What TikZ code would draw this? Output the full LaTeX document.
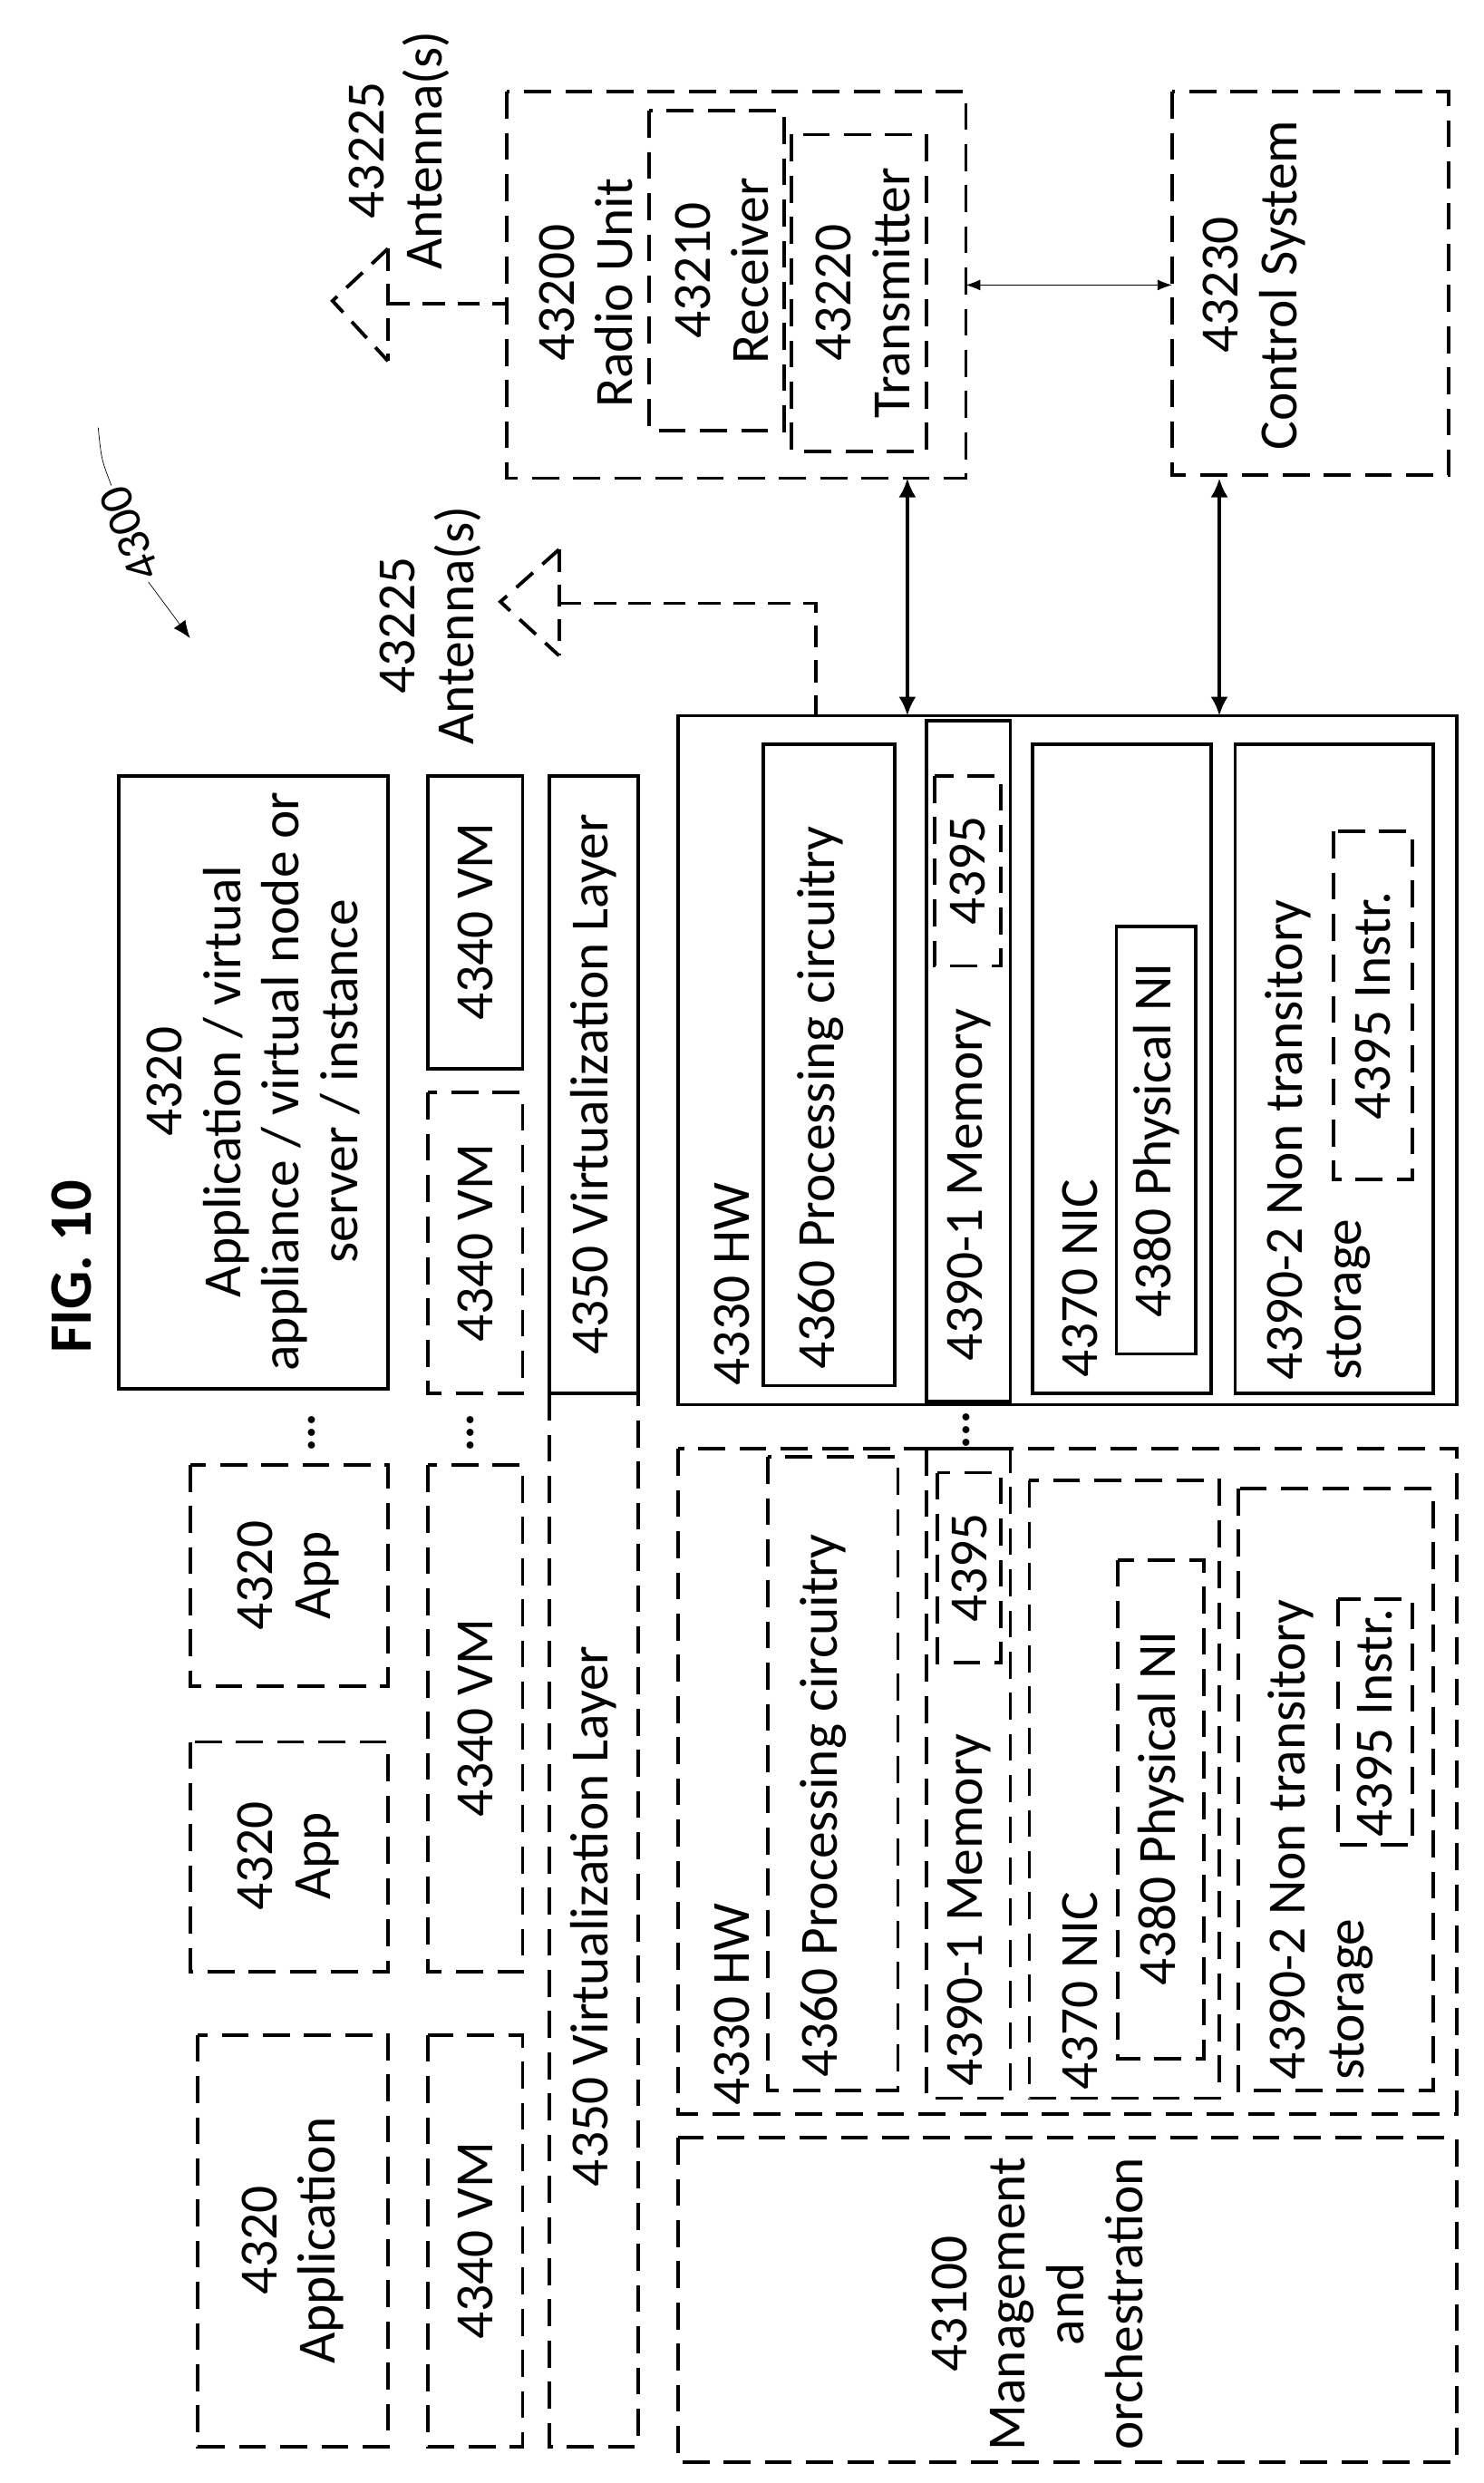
\documentclass[tikz,border=0pt]{standalone}
\usepackage{fontspec}
\setmainfont{Carlito}
\usetikzlibrary{arrows.meta}
\begin{document}
\begin{tikzpicture}[x=1pt,y=-1pt,
  sb/.style={draw,line width=2.2pt},
  db/.style={draw,line width=2.2pt,dash pattern=on 17pt off 9pt},
  tx/.style={rotate=90,font=\fontsize{34}{37}\selectfont,align=center,inner sep=0pt},
  dar/.style={line width=2.4pt,{Latex[length=12pt,width=11pt]}-{Latex[length=12pt,width=11pt]}}]
\useasboundingbox (0,0) rectangle (937,1568);
\node[tx,font=\fontsize{38}{42}\selectfont\bfseries] (fig) at (45,800) {FIG. 10};
% 4300
\node[rotate=111,font=\fontsize{30}{32}\selectfont,inner sep=2pt] (lbl) at (82,337) {4300};
\coordinate (st) at (62,270);
\draw[thin] (st) .. controls (64,290) .. (lbl.east);
\coordinate (ar) at (120,403);
\draw[thin,-{Latex[length=11pt,width=9pt]}] (lbl.west) -- (ar);
% left-top
\draw[sb] (75,490) rectangle (245,877);
\node[tx] (app1) at (160,683) {4320\\Application / virtual\\appliance / virtual node or\\server / instance};
\draw[db] (270,690) rectangle (330,880); \node[tx] at (300,785) {4340 VM};
\draw[sb] (270,490) rectangle (330,675); \node[tx] at (300,582) {4340 VM};
\draw[sb] (347,490) rectangle (403,880); \node[tx] at (375,685) {4350 Virtualization Layer};
\draw[db] (347,880) -- (347,1545) -- (403,1545) -- (403,880);
\node[tx] at (375,1210) {4350 Virtualization Layer};
\node[tx,font=\fontsize{30}{30}\selectfont\bfseries] at (197,905) {...};
\node[tx,font=\fontsize{30}{30}\selectfont\bfseries] at (297,905) {...};
\node[tx,font=\fontsize{30}{30}\selectfont\bfseries] at (610,903) {...};
\draw[db] (120,925) rectangle (245,1065); \node[tx] at (182,995) {4320\\App};
\draw[db] (120,1100) rectangle (245,1245); \node[tx] at (182,1172) {4320\\App};
\draw[db] (125,1285) rectangle (245,1545); \node[tx] at (185,1415) {4320\\Application};
\draw[db] (270,925) rectangle (330,1245); \node[tx] at (300,1085) {4340 VM};
\draw[db] (270,1285) rectangle (330,1545); \node[tx] at (300,1415) {4340 VM};
% right HW solid
\draw[sb] (428,452) rectangle (920,887);
\node[tx,anchor=west] at (462,875) {4330 HW};
\draw[sb] (482,470) rectangle (565,875); \node[tx,anchor=west] at (518,865) {4360 Processing circuitry};
\draw[sb] (585,455) rectangle (638,885); \node[tx,anchor=west] at (612,860) {4390-1 Memory};
\draw[db] (590,490) rectangle (632,610); \node[tx] at (611,550) {4395};
\draw[sb] (652,470) rectangle (765,880); \node[tx,anchor=west] at (682,870) {4370 NIC};
\draw[sb] (705,585) rectangle (755,855); \node[tx] at (730,720) {4380 Physical NI};
\draw[sb] (780,470) rectangle (905,880); \node[tx,anchor=west,align=left] at (832,872) {4390-2 Non transitory\\storage};
\draw[db] (842,525) rectangle (892,745); \node[tx] at (867,635) {4395 Instr.};
% left HW dashed
\draw[db] (428,915) rectangle (920,1335);
\node[tx,anchor=west] at (462,1330) {4330 HW};
\draw[db] (485,920) rectangle (567,1320); \node[tx,anchor=west] at (520,1312) {4360 Processing circuitry};
\draw[db] (585,915) rectangle (638,1325); \node[tx,anchor=west] at (612,1318) {4390-1 Memory};
\draw[db] (592,930) rectangle (632,1050); \node[tx] at (612,990) {4395};
\draw[db] (650,935) rectangle (770,1325); \node[tx,anchor=west] at (682,1320) {4370 NIC};
\draw[db] (706,985) rectangle (760,1300); \node[tx] at (733,1142) {4380 Physical NI};
\draw[db] (782,940) rectangle (905,1320); \node[tx,anchor=west,align=left] at (834,1314) {4390-2 Non transitory\\storage};
\draw[db] (845,1010) rectangle (892,1165); \node[tx] at (868,1088) {4395 Instr.};
% management
\draw[db] (428,1350) rectangle (920,1555);
\node[tx] at (655,1455) {43100\\Management\\and\\orchestration};
% radio unit
\draw[db] (320,58) rectangle (610,302);
\node[tx] at (370,185) {43200\\Radio Unit};
\draw[db] (410,70) rectangle (495,272); \node[tx] at (456,171) {43210\\Receiver};
\draw[db] (500,85) rectangle (585,285); \node[tx] at (545,185) {43220\\Transmitter};
\draw[db] (740,58) rectangle (915,300); \node[tx] at (792,180) {43230\\Control System};
\coordinate (a1) at (610,180); \coordinate (a2) at (740,180);
\draw[thin,{Latex[length=9pt]}-{Latex[length=9pt]}] (a1) -- (a2);
\coordinate (b1) at (573,302); \coordinate (b2) at (573,452);
\draw[dar] (b1) -- (b2);
\coordinate (c1) at (770,302); \coordinate (c2) at (770,452);
\draw[dar] (c1) -- (c2);
% antennas
\tikzset{ad/.style={line width=2.2pt,dash pattern=on 14pt off 8pt}}
\draw[ad] (245,157) -- (210,190) -- (245,228);
\draw[ad] (245,157) -- (245,228);
\draw[ad] (245,192) -- (320,192);
\node[tx] at (252,95) {43225\\Antenna(s)};
\draw[ad] (353,347) -- (316,380) -- (353,414);
\draw[ad] (353,347) -- (353,414);
\draw[ad] (353,381) -- (515,381) -- (515,452);
\node[tx] at (272,395) {43225\\Antenna(s)};
\end{tikzpicture}
\end{document}
